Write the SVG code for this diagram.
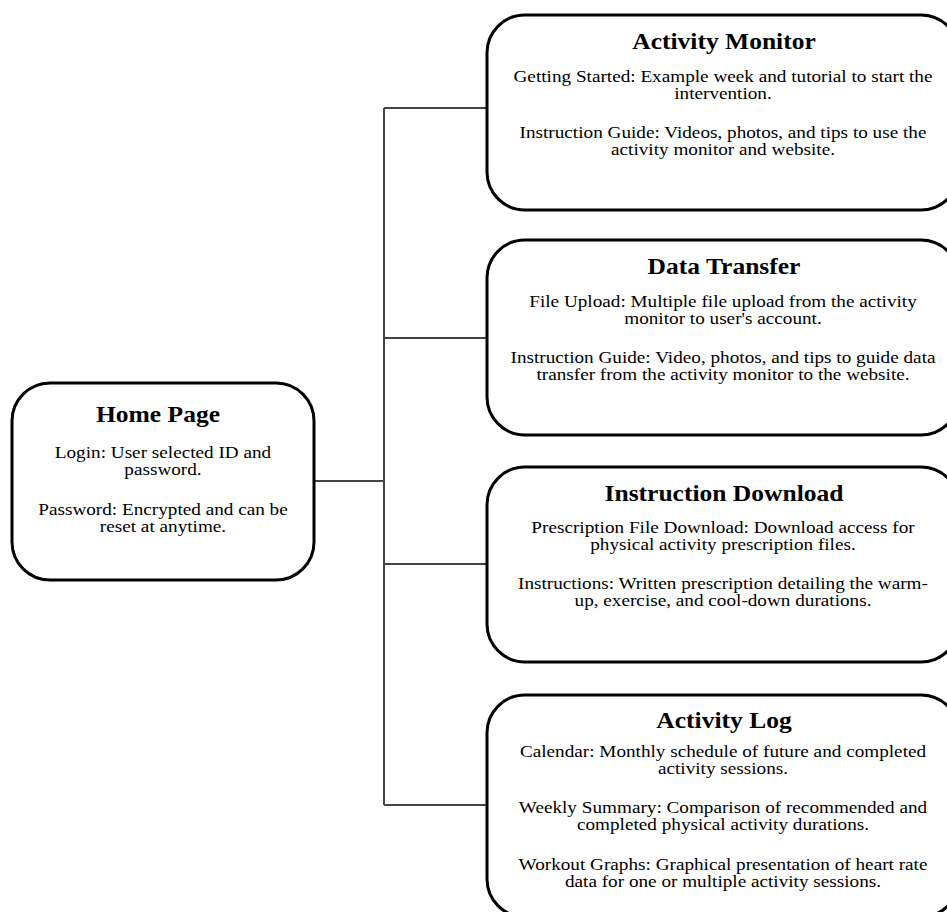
<svg xmlns="http://www.w3.org/2000/svg" width="947" height="912" viewBox="0 0 947 912">
<style>
.box{fill:#fff;stroke:#000;stroke-width:3}
.conn{fill:none;stroke:#444;stroke-width:2}
text{font-family:"Liberation Serif","Times New Roman",serif;fill:#000;text-anchor:middle}
.t{font-size:23px;font-weight:bold}
.b{font-size:17px}
</style>
<rect width="947" height="912" fill="#fff"/>
<g id="connectors">
<path class="conn" d="M314 481H384M384 108V805M384 108H487M384 338H487M384 564H487M384 805H487"/>
</g>
<g id="home">
<rect class="box" x="12" y="383" width="302" height="197" rx="38"/>
<text class="t" transform="translate(158,0) scale(1.11,1)" x="0" y="422">Home Page</text>
<g transform="translate(163,0) scale(1.13,1)">
<text class="b" x="0" y="458">Login: User selected ID and</text>
<text class="b" x="0" y="475">password.</text>
<text class="b" x="0" y="515">Password: Encrypted and can be</text>
<text class="b" x="0" y="532">reset at anytime.</text>
</g>
</g>
<g id="activity-monitor">
<rect class="box" x="487" y="15" width="472" height="195" rx="38"/>
<text class="t" transform="translate(724,0) scale(1.11,1)" x="0" y="49">Activity Monitor</text>
<g transform="translate(723,0) scale(1.13,1)">
<text class="b" x="0" y="82">Getting Started: Example week and tutorial to start the</text>
<text class="b" x="0" y="99">intervention.</text>
<text class="b" x="0" y="138">Instruction Guide: Videos, photos, and tips to use the</text>
<text class="b" x="0" y="155">activity monitor and website.</text>
</g>
</g>
<g id="data-transfer">
<rect class="box" x="487" y="240" width="472" height="195" rx="38"/>
<text class="t" transform="translate(724,0) scale(1.11,1)" x="0" y="274">Data Transfer</text>
<g transform="translate(723,0) scale(1.13,1)">
<text class="b" x="0" y="307">File Upload: Multiple file upload from the activity</text>
<text class="b" x="0" y="324">monitor to user's account.</text>
<text class="b" x="0" y="363">Instruction Guide: Video, photos, and tips to guide data</text>
<text class="b" x="0" y="380">transfer from the activity monitor to the website.</text>
</g>
</g>
<g id="instruction-download">
<rect class="box" x="487" y="467" width="472" height="195" rx="38"/>
<text class="t" transform="translate(724,0) scale(1.11,1)" x="0" y="501">Instruction Download</text>
<g transform="translate(723,0) scale(1.13,1)">
<text class="b" x="0" y="533">Prescription File Download: Download access for</text>
<text class="b" x="0" y="550">physical activity prescription files.</text>
<text class="b" x="0" y="589">Instructions: Written prescription detailing the warm-</text>
<text class="b" x="0" y="606">up, exercise, and cool-down durations.</text>
</g>
</g>
<g id="activity-log">
<rect class="box" x="487" y="695" width="472" height="222" rx="38"/>
<text class="t" transform="translate(724,0) scale(1.11,1)" x="0" y="728">Activity Log</text>
<g transform="translate(723,0) scale(1.13,1)">
<text class="b" x="0" y="757">Calendar: Monthly schedule of future and completed</text>
<text class="b" x="0" y="774">activity sessions.</text>
<text class="b" x="0" y="813">Weekly Summary: Comparison of recommended and</text>
<text class="b" x="0" y="830">completed physical activity durations.</text>
<text class="b" x="0" y="870">Workout Graphs: Graphical presentation of heart rate</text>
<text class="b" x="0" y="887">data for one or multiple activity sessions.</text>
</g>
</g>
</svg>
